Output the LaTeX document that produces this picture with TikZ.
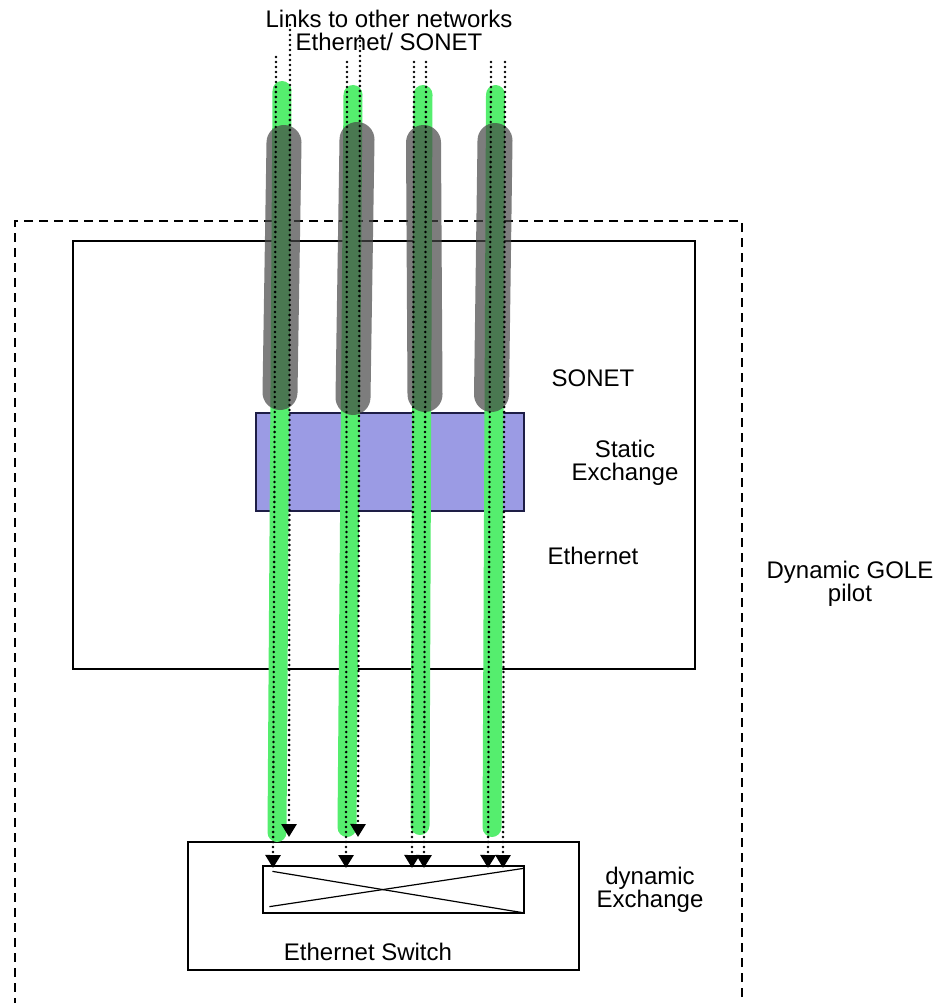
\documentclass[tikz,border=0pt]{standalone}
\usepackage{fontspec}
\setmainfont{Liberation Sans}
\usetikzlibrary{arrows.meta}

\definecolor{linkgreen}{RGB}{85,238,110}
\definecolor{sheathgrey}{RGB}{70,70,70}
\definecolor{exchblue}{RGB}{155,155,228}
\definecolor{exchedge}{RGB}{30,30,70}

\begin{document}
\begin{tikzpicture}[
  x=1pt,y=-1pt,
  >={Triangle[width=15pt,length=13pt]},
  plainbox/.style={draw,line width=1.3pt,inner sep=0pt,fill=white},
  dashbox/.style={draw,line width=1.4pt,inner sep=0pt,dash pattern=on 9pt off 6pt},
  exchbox/.style={draw=exchedge,line width=1.3pt,inner sep=0pt,fill=exchblue},
  linkbar/.style={line width=19pt,line cap=round,draw=linkgreen},
  sheathbar/.style={line width=35pt,line cap=round,draw=sheathgrey,draw opacity=0.7},
  fibre/.style={->,line width=2.8pt,line cap=round,dash pattern=on 0pt off 5pt},
  txt/.style={font=\fontsize{24}{23}\selectfont,align=center,inner sep=0pt}
]
  \path[use as bounding box,clip] (0,0) rectangle (939,1003);

  % frames
  \node[dashbox,minimum width=727pt,minimum height=799pt] (pilot) at (378.5,620.5) {};
  \node[plainbox,minimum width=622pt,minimum height=428pt] (gole) at (384,455) {};
  \node[exchbox,minimum width=268pt,minimum height=98pt] (static) at (390,462) {};
  \node[plainbox,minimum width=391pt,minimum height=128pt] (switch) at (383.5,906) {};
  \node[plainbox,minimum width=261pt,minimum height=47pt] (xbar) at (393.5,889.5) {};
  \draw[line width=1.2pt] ([xshift=10pt,yshift=-6pt]xbar.north west) -- ([xshift=-2pt,yshift=1pt]xbar.south east);
  \draw[line width=1.2pt] ([xshift=7pt,yshift=7pt]xbar.south west) -- ([xshift=-1pt,yshift=-3pt]xbar.north east);

  % links and sheaths
  \foreach \xt/\yt/\xb/\yb in {282/90.5/277/832.5, 353/94.5/347/827.5,
                               423/94.5/420/825.5, 495.5/94.5/492/827.5}
    \draw[linkbar] (\xt,\yt) -- (\xb,\yb);
  \foreach \xt/\yt/\xb/\yb in {284/142.5/280/392.5, 357/139.5/353/397.5,
                               423.5/142.5/425/394.5, 495/140.5/491.5/394.5}
    \draw[sheathbar] (\xt,\yt) -- (\xb,\yb);

  % labels
  \node[txt] (title) at (389,30) {Links to other networks\\Ethernet/ SONET};
  \node[txt,anchor=base] (sonettxt) at (593,386) {SONET};
  \node[txt] (statictxt) at (625,462.5) {Static\\Exchange};
  \node[txt,anchor=base] (ethtxt) at (593,564) {Ethernet};
  \node[txt] (pilottxt) at (850,583.5) {Dynamic GOLE\\pilot};
  \node[txt] (dyntxt) at (650,890) {dynamic\\Exchange};
  \node[txt,anchor=base] (switchtxt) at (368,960) {Ethernet Switch};

  % fibres
  \foreach \f/\xt/\yt/\xb/\yb in {f1a/276/57/273/868, f1b/290/25/289/837,
                                  f2a/347/62/346/868, f2b/360/36/358/837,
                                  f3a/414/62/412/868, f3b/426/62/424/868,
                                  f4a/491/62/488/868, f4b/505/62/503/868} {
    \coordinate (\f top) at (\xt,\yt);
    \coordinate (\f end) at (\xb,\yb);
    \draw[fibre] (\f top) -- (\f end);
  }
\end{tikzpicture}
\end{document}
